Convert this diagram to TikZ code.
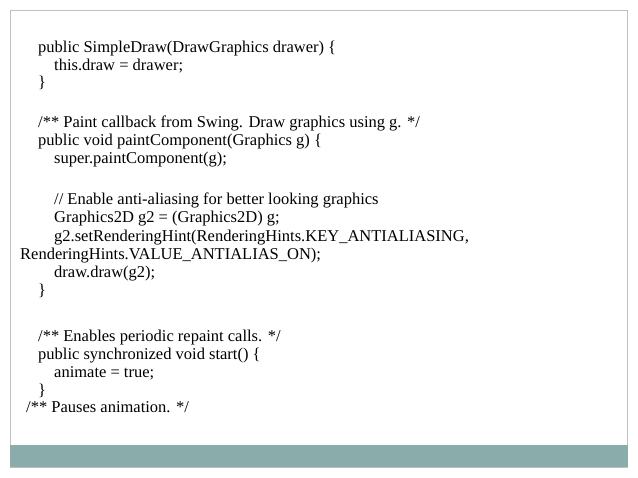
\documentclass[tikz,border=0pt]{standalone}
\usepackage{fontspec}
\setmainfont{Liberation Serif}
\begin{document}
\begin{tikzpicture}[x=1pt,y=-1pt,ln/.style={anchor=base west,inner sep=0pt,font=\fontsize{16.5}{18}\selectfont}]
\useasboundingbox (0,0) rectangle (638,478);
\fill[white] (0,0) rectangle (638,478);
\draw[draw=black!25,line width=0.8pt] (10.5,10.5) rectangle (627.5,467);
\fill[fill={rgb,255:red,138;green,172;blue,170}] (10,445) rectangle (628,467);
\node[ln] (l1) at (38,53) {public SimpleDraw(DrawGraphics drawer) \{};
\node[ln] (l2) at (54,70.5) {this.draw = drawer;};
\node[ln] (l3) at (38,88) {\}};
\node[ln] (l4) at (38,128) {/** Paint callback from Swing. Draw graphics using g. */};
\node[ln] (l5) at (38,145.5) {public void paintComponent(Graphics g) \{};
\node[ln] (l6) at (54,164) {super.paintComponent(g);};
\node[ln] (l7) at (54,205) {// Enable anti-aliasing for better looking graphics};
\node[ln] (l8) at (54,223) {Graphics2D g2 = (Graphics2D) g;};
\node[ln] (l9) at (54,242) {g2.setRenderingHint(RenderingHints.KEY\_ANTIALIASING,};
\node[ln] (l10) at (20,260) {RenderingHints.VALUE\_ANTIALIAS\_ON);};
\node[ln] (l11) at (54,278) {draw.draw(g2);};
\node[ln] (l12) at (38,296) {\}};
\node[ln] (l13) at (38,342) {/** Enables periodic repaint calls. */};
\node[ln] (l14) at (38,360) {public synchronized void start() \{};
\node[ln] (l15) at (54,378) {animate = true;};
\node[ln] (l16) at (38,396) {\}};
\node[ln] (l17) at (26,413) {/** Pauses animation. */};
\end{tikzpicture}
\end{document}
